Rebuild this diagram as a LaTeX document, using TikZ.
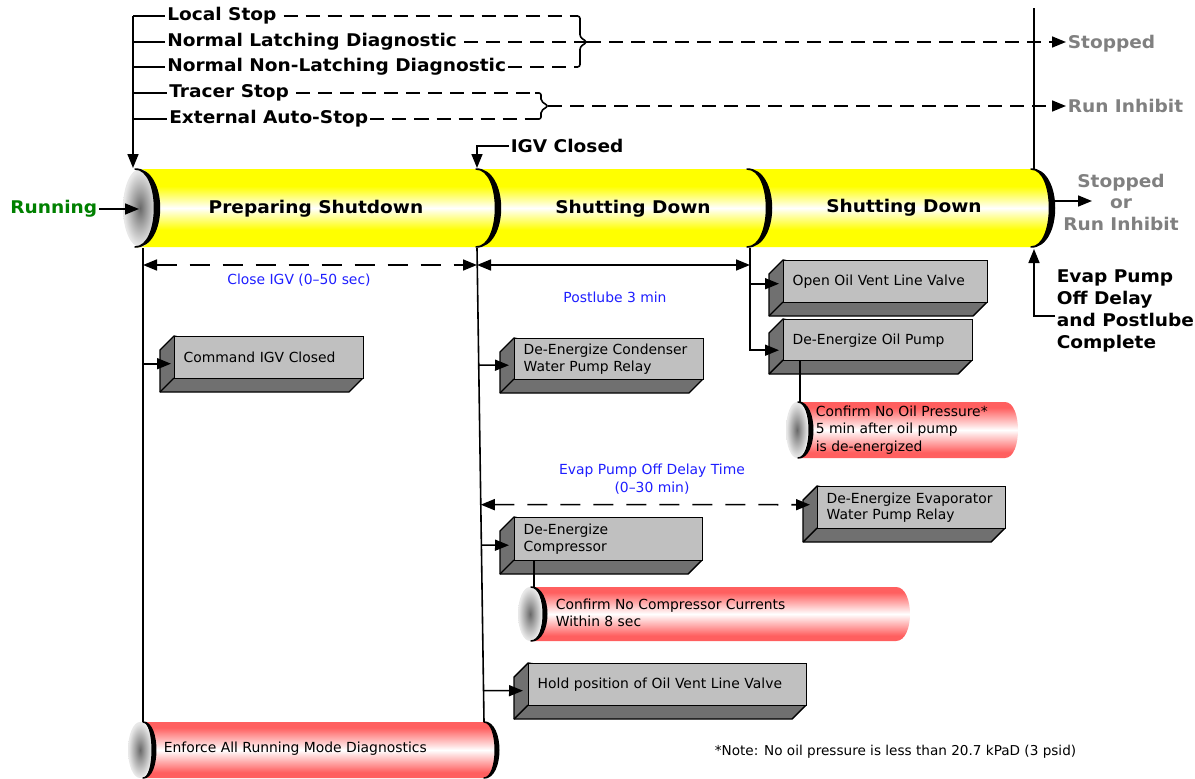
\documentclass[tikz,border=0pt]{standalone}
\usepackage{fontspec}
\setmainfont{DejaVu Sans}[BoldFeatures={FakeStretch=1.06}]
\usetikzlibrary{arrows.meta,calc}

\definecolor{boxgray}{RGB}{192,192,192}
\definecolor{sidegray}{RGB}{112,112,112}
\definecolor{cylyellow}{RGB}{255,255,0}
\definecolor{cylred}{RGB}{255,95,95}
\definecolor{lblue}{RGB}{30,30,255}
\definecolor{dgreen}{RGB}{0,128,0}
\definecolor{stategray}{RGB}{128,128,128}
\definecolor{facedark}{RGB}{105,105,105}
\definecolor{facelight}{RGB}{232,232,232}
\pgfdeclareradialshading{facesh}{\pgfpoint{0bp}{0bp}}{color(0bp)=(facedark); color(10bp)=(gray!75); color(24bp)=(facelight); color(50bp)=(facelight)}
\pgfdeclareverticalshading{yellowsh}{100bp}{color(0bp)=(cylyellow); color(36bp)=(cylyellow); color(50bp)=(white); color(64bp)=(cylyellow); color(100bp)=(cylyellow)}
\pgfdeclareverticalshading{redsh}{100bp}{color(0bp)=(cylred); color(30bp)=(cylred); color(50bp)=(white); color(70bp)=(cylred); color(100bp)=(cylred)}

% cylinder body: x1 (left arc x), x2 (right arc x), ytop, ybot, rxL, rxR, shading
\newcommand\cylbody[7]{%
  \shade[shading=#7]
   (#1,#3) -- (#2,#3) .. controls ({#2+1.333*#6},#3) and ({#2+1.333*#6},#4) .. (#2,#4)
   -- (#1,#4) .. controls ({#1+1.333*#5},#4) and ({#1+1.333*#5},#3) .. (#1,#3) -- cycle;}
% end face: cx, cy, rx, ry
\newcommand\cylface[4]{%
  \shade[shading=facesh] (#1,#2) ellipse [x radius=#3pt, y radius=#4pt];}
% black crescent arc: x, ytop, ybot, rx, thickness
\newcommand\cylarc[5]{%
  \filldraw[line width=1.5pt, line join=round]
   (#1,#2) .. controls ({#1+1.333*(#4+#5/2)},#2) and ({#1+1.333*(#4+#5/2)},#3) .. (#1,#3)
   .. controls ({#1+1.333*(#4-#5/2)},#3) and ({#1+1.333*(#4-#5/2)},#2) .. (#1,#2) -- cycle;}
% 3D box: name, x1, y1, x2, y2, text
\newcommand\tdbox[6]{%
  \pgfmathsetmacro\tdW{#4-#2}%
  \pgfmathsetmacro\tdH{#5-#3}%
  \pgfmathsetmacro\tdT{#4-#2-18}%
  \filldraw[fill=sidegray, line width=1.4pt, line join=round]
    (#2,#3) -- ++(-14,14) -- (#2-14,#5+14) -- (#4-14,#5+14) -- (#4,#5) -- cycle;
  \draw[line width=1.4pt] (#2,#5) -- ++(-14,14);
  \node[tdfront, minimum width=\tdW pt, minimum height=\tdH pt, text width=\tdT pt] (#1) at (#2,#3) {#6};}

\begin{document}
\begin{tikzpicture}[x=1pt,y=-1pt,line width=1.6pt,>={Triangle[length=14pt,width=11pt]},
  toplbl/.style={font=\bfseries\fontsize{17.5}{19}\selectfont, anchor=west, inner sep=1.5pt, text height=13pt, text depth=3.8pt},
  seclbl/.style={font=\bfseries\fontsize{17.5}{19}\selectfont, inner sep=1pt},
  statelbl/.style={font=\bfseries\fontsize{17.5}{21.5}\selectfont, text=stategray, inner sep=1pt},
  smalltxt/.style={font=\fontsize{13.9}{17.5}\selectfont, inner sep=2pt},
  bluetxt/.style={smalltxt, text=lblue, align=center},
  tdfront/.style={draw=black, line width=1.4pt, fill=boxgray, inner xsep=9pt, inner ysep=2pt, align=left, anchor=north west, font=\fontsize{13.9}{16.5}\selectfont},
  dashline/.style={dash pattern=on 14pt off 8pt},
  dimdash/.style={dash pattern=on 20pt off 13pt}]
\useasboundingbox (0,0) rectangle (1195,779);

% ---------- main cylinder ----------
\cylbody{135}{1031}{169}{247}{22}{21}{yellowsh}
\cylface{140}{208}{17}{39}
\cylarc{135}{169}{247}{22}{5}
\cylarc{476}{169}{247}{22}{5}
\cylarc{747}{169}{247}{22}{5}
\cylarc{1031}{169}{247}{21}{5}
\node[seclbl] (prep) at (316,209) {Preparing Shutdown};
\node[seclbl] (shut1) at (633,209) {Shutting Down};
\node[seclbl] (shut2) at (904,208) {Shutting Down};

% ---------- top labels ----------
\node[toplbl] (ls) at (165,16) {Local Stop};
\node[toplbl] (nld) at (165,42) {Normal Latching Diagnostic};
\node[toplbl] (nnld) at (165,67) {Normal Non-Latching Diagnostic};
\node[toplbl] (ts) at (167,93) {Tracer Stop};
\node[toplbl] (eas) at (167,119) {External Auto-Stop};
\coordinate (brk) at (133,16);
\coordinate (cTL) at (133,168);
\draw[->] (brk) -- (cTL);
\foreach \n in {ls,nld,nnld,ts,eas} \draw (brk |- \n.west) -- (\n.west);

\node[statelbl, anchor=west] (stopped) at (1066,44) {Stopped};
\node[statelbl, anchor=west] (runinh) at (1066,106) {Run Inhibit};

\coordinate (b1t) at (574,16);
\coordinate (b1tip) at (587,42);
\coordinate (b1b) at (574,67);
\draw[rounded corners=2.5pt] (b1t) -- (580,16) -- (580,37) -- (b1tip) -- (580,47) -- (580,67) -- (b1b);
\draw[dashline, shorten <=5pt] (ls.east) -- (b1t);
\draw[dashline, shorten <=5pt] (nld.east) -- (b1tip);
\draw[dashline] (nnld.east) -- (b1b);
\draw[dashline,->] (b1tip) -- (b1tip -| stopped.west);

\coordinate (b2t) at (535,93);
\coordinate (b2tip) at (548,106);
\coordinate (b2b) at (535,119);
\draw[rounded corners=2pt] (b2t) -- (541,93) -- (541,101) -- (b2tip) -- (541,111) -- (541,119) -- (b2b);
\draw[dashline, shorten <=5pt] (ts.east) -- (b2t);
\draw[dashline] (eas.east) -- (b2b);
\draw[dashline,->] (b2tip) -- (b2tip -| runinh.west);

\coordinate (vt) at (1034,8);
\coordinate (cTR) at (1034,169);
\draw (vt) -- (cTR);

% ---------- state arrows ----------
\node[seclbl, anchor=west] (igv) at (509,146) {IGV Closed};
\coordinate (cM) at (477,168);
\draw[->] (igv.west) -| (cM);

\node[seclbl, text=dgreen, anchor=east] (run) at (99,209) {Running};
\coordinate (face) at (139,209);
\draw[->] (run.east) -- (face);

\node[statelbl, align=center] (final) at (1121,202) {Stopped\\or\\Run Inhibit};
\coordinate (cR) at (1052,201);
\coordinate (finA) at (1092,201);
\draw[->] (cR) -- (finA);

\node[statelbl, text=black, anchor=west, align=left, font=\bfseries\fontsize{17.5}{22}\selectfont] (evdone) at (1055,311) {Evap Pump\\Off Delay\\and Postlube\\Complete};
\coordinate (cB) at (1034,249);
\draw[->] ($(evdone.west)+(0,5)$) -| (cB);

% ---------- time lines ----------
\coordinate (lTop) at (143,248);
\coordinate (lBot) at (143,722);
\coordinate (mTop) at (477,248);
\coordinate (mBot) at (484,722);
\coordinate (rTop) at (750,248);
\draw (lTop) -- (lBot);
\draw (mTop) -- (mBot);
\coordinate (dL) at (143,265);
\coordinate (dM) at (477,265);
\coordinate (dR) at (750,265);
\draw[dimdash,<->] (dL) -- (dM);
\draw[<->] (dM) -- (dR);
\node[bluetxt] (closeigv) at (299,280) {Close IGV (0–50 sec)};
\node[bluetxt] (postlube) at (615,297) {Postlube 3 min};
\node[bluetxt] (evapdelay) at (652,479) {Evap Pump Off Delay Time\\(0–30 min)};

% ---------- red cylinders ----------
\cylbody{798}{1005}{402}{458}{13}{13}{redsh}
\cylface{797}{430}{11}{28}
\cylarc{798}{402}{458}{13}{3.5}
\node[smalltxt, anchor=west, align=left] (oilpr) at (813,430) {Confirm No Oil Pressure*\\5 min after oil pump\\is de-energized};

\cylbody{531}{896}{587}{641}{14}{14}{redsh}
\cylface{530}{614}{12}{27}
\cylarc{531}{587}{641}{14}{3.5}
\node[smalltxt, anchor=west, align=left] (curr) at (553,613) {Confirm No Compressor Currents\\Within 8 sec};

\cylbody{143}{484}{722}{778}{11}{13}{redsh}
\cylface{140}{750}{12}{28}
\cylarc{143}{722}{778}{11}{3.5}
\cylarc{484}{722}{778}{13}{3.5}
\node[smalltxt, anchor=west] (enf) at (161,749) {Enforce All Running Mode Diagnostics};

% ---------- 3D boxes ----------
\tdbox{cmd}{174}{336}{363}{378}{Command IGV Closed}
\tdbox{cond}{514}{338}{703}{379}{De-Energize Condenser\\Water Pump Relay}
\tdbox{vent}{783}{260}{987}{302}{Open Oil Vent Line Valve}
\tdbox{oilp}{783}{319}{972}{360}{De-Energize Oil Pump}
\tdbox{evap}{817}{486}{1005}{528}{De-Energize Evaporator\\Water Pump Relay}
\tdbox{comp}{514}{517}{702}{560}{De-Energize\\Compressor}
\tdbox{hold}{528}{663}{806}{705}{Hold position of Oil Vent Line Valve}

% ---------- connectors to boxes ----------
\coordinate (cmdA) at ($(cmd.west)+(-3,6)$);
\draw[->] (lTop |- cmdA) -- (cmdA);
\coordinate (condA) at ($(cond.west)+(-5,6)$);
\coordinate (condL) at ($(condA)+(-100,0)$);
\draw[->] (intersection of mTop--mBot and condA--condL) -- (condA);
\coordinate (compA) at ($(comp.west)+(-5,6)$);
\coordinate (compL) at ($(compA)+(-100,0)$);
\draw[->] (intersection of mTop--mBot and compA--compL) -- (compA);
\coordinate (holdA) at ($(hold.west)+(-5,6)$);
\coordinate (holdL) at ($(holdA)+(-100,0)$);
\draw[->] (intersection of mTop--mBot and holdA--holdL) -- (holdA);
\coordinate (ventA) at ($(vent.west)+(-4,2)$);
\draw[->] (rTop |- ventA) -- (ventA);
\coordinate (oilA) at ($(oilp.west)+(-4,10)$);
\draw[->] (rTop) |- (oilA);
\coordinate (evA) at ($(evap.west)+(-7,-3)$);
\coordinate (evL) at ($(evA)+(-100,0)$);
\draw[dimdash,<->] (intersection of mTop--mBot and evA--evL) -- (evA);

\coordinate (oilpB) at ($(oilp.south west)+(17,0)$);
\coordinate (oilprT) at (800,402);
\draw (oilpB) -- (oilprT);
\coordinate (compB) at ($(comp.south west)+(20,0)$);
\coordinate (currT) at (534,587);
\draw (compB) -- (currT);

% ---------- note ----------
\node[smalltxt, anchor=west, font=\fontsize{13.6}{16}\selectfont] (note) at (712,752) {*Note: No oil pressure is less than 20.7 kPaD (3 psid)};
\end{tikzpicture}
\end{document}
